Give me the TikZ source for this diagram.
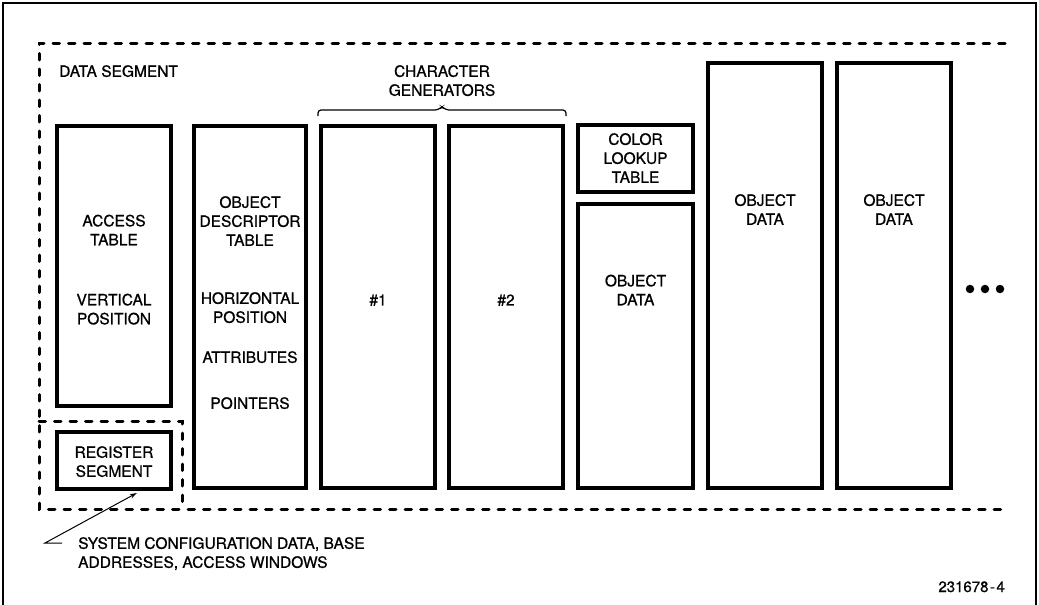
\documentclass[tikz,border=0pt]{standalone}
\usepackage{fontspec}
\setmainfont{TeX Gyre Heros}[FakeBold=0.8]
\usetikzlibrary{arrows.meta}
\tikzset{
  blk/.style={draw=black, line width=3.6pt, fill=none, inner sep=0pt, rectangle},
  lbl/.style={inner sep=0pt, align=center, font=\fontsize{15.5}{19}\selectfont, text depth=0pt},
  seg/.style={line width=3pt, line cap=round, dash pattern=on 6.5pt off 9pt},
  frame/.style={line width=1.4pt},
  dot/.style={circle, fill=black, inner sep=0pt, minimum size=8.5pt},
}
\begin{document}
\begin{tikzpicture}[x=1pt, y=-1pt]
\useasboundingbox (0,0) rectangle (1039,605);
% outer frame
\draw[frame] (3,605) -- (3,3) -- (1036,3) -- (1036,605);
% data segment dashed boundary
\draw[seg] (1005,43) -- (39,43) -- (39,509) -- (1005,509);
\draw[seg] (39,421) -- (182,421) -- (182,509);
\node[lbl, anchor=west] (ds) at (59,71) {DATA SEGMENT};
% boxes
\node[blk, minimum width=114pt, minimum height=280pt] (acc) at (114,266) {};
\node[blk, minimum width=114pt, minimum height=57pt] (reg) at (114,460.5) {};
\node[blk, minimum width=112pt, minimum height=362pt] (odt) at (250,307) {};
\node[blk, minimum width=114pt, minimum height=362pt] (cg1) at (378,307) {};
\node[blk, minimum width=114pt, minimum height=362pt] (cg2) at (506,307) {};
\node[blk, minimum width=115pt, minimum height=67pt] (clut) at (635.5,158.5) {};
\node[blk, minimum width=115pt, minimum height=284pt] (od1) at (635.5,346) {};
\node[blk, minimum width=114pt, minimum height=425pt] (od2) at (765,275.5) {};
\node[blk, minimum width=114pt, minimum height=425pt] (od3) at (894,275.5) {};
% texts
\node[lbl] (t1) at (114,230) {ACCESS\\TABLE};
\node[lbl] (t2) at (114,309) {VERTICAL\\POSITION};
\node[lbl] (t3) at (114,461.5) {REGISTER\\SEGMENT};
\node[lbl] (t4) at (250,221) {OBJECT\\DESCRIPTOR\\TABLE};
\node[lbl] (t5) at (250,307.5) {HORIZONTAL\\POSITION};
\node[lbl] (t6) at (250,357) {ATTRIBUTES};
\node[lbl] (t7) at (250,403) {POINTERS};
\node[lbl] (t8) at (378,300) {\#1};
\node[lbl] (t9) at (506,300) {\#2};
\node[lbl] (t10) at (442,80.5) {CHARACTER\\GENERATORS};
\node[lbl] (t11) at (635.5,158) {COLOR\\LOOKUP\\TABLE};
\node[lbl] (t12) at (635.5,290) {OBJECT\\DATA};
\node[lbl] (t13) at (765,209.5) {OBJECT\\DATA};
\node[lbl] (t14) at (894,209.5) {OBJECT\\DATA};
% brace
\draw[line width=1.2pt, rounded corners=3pt] (318,116) -- (318,110) -- (438,110) -- (442,106.5) -- (446,110) -- (566,110) -- (566,116);
% dots
\node[dot] (d1) at (970,289) {};
\node[dot] (d2) at (985,289) {};
\node[dot] (d3) at (1000,289) {};
% annotation
\node[lbl, anchor=north west, align=left] (note) at (78,537) {SYSTEM CONFIGURATION DATA, BASE\\ADDRESSES, ACCESS WINDOWS};
\coordinate (c1) at (62,543);
\coordinate (c2) at (45,543);
\draw[line width=1pt, -{Stealth[length=7pt,width=4.5pt]}] (c1) -- (c2) -- ([xshift=-36pt]reg.south east |- 0,493);
\node[inner sep=0pt, anchor=base east, font=\fontsize{15}{18}\selectfont] (fig) at (1005,592) {231678\kern1.5pt-\kern1.5pt4};
\end{tikzpicture}
\end{document}
